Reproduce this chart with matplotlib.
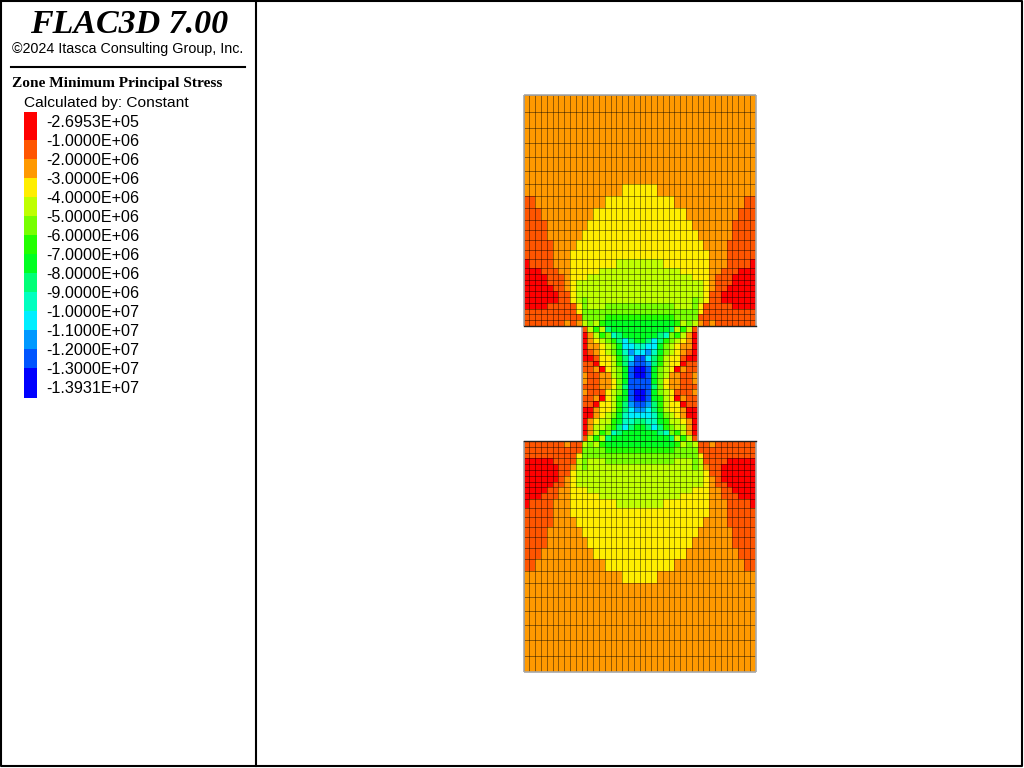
"""Zone minimum principal stress contour on a notched block (FLAC3D plot)."""

import numpy as np
import matplotlib
matplotlib.use("Agg")
import matplotlib.pyplot as plt
from matplotlib.colors import ListedColormap, BoundaryNorm

# legend
legend_labels = ["-2.6953E+05", "-1.0000E+06", "-2.0000E+06", "-3.0000E+06",
                 "-4.0000E+06", "-5.0000E+06", "-6.0000E+06", "-7.0000E+06",
                 "-8.0000E+06", "-9.0000E+06", "-1.0000E+07", "-1.1000E+07",
                 "-1.2000E+07", "-1.3000E+07", "-1.3931E+07"]
band_colors = ["#ff0000", "#ff5500", "#ff9900", "#ffee00", "#bfff00", "#77ff00",
               "#22ff00", "#00ff22", "#00ff77", "#00ffbf", "#00eeff", "#0099ff",
               "#0055ff", "#0000ff"]

# row heights, top to bottom
upper_heights = [16.5, 16, 15, 14, 14, 13.5, 12, 12, 11.5, 10.5, 10, 10, 9, 9,
                 5.8, 5.8, 5.8, 5.8, 5.8, 5.8, 5.8, 5.8, 5.8, 5.8]
neck_heights = [5.75] * 20
lower_heights = upper_heights[::-1]

# left half of each row as (band, number of zones), the right half mirrors it
upper_runs = [
    [(2, 20)], [(2, 20)], [(2, 20)], [(2, 20)], [(2, 20)], [(2, 20)],
    [(2, 17), (3, 3)],
    [(1, 2), (2, 12), (3, 6)],
    [(1, 3), (2, 9), (3, 8)],
    [(1, 4), (2, 7), (3, 9)],
    [(1, 4), (2, 6), (3, 10)],
    [(1, 5), (2, 4), (3, 11)],
    [(1, 5), (2, 3), (3, 12)],
    [(0, 1), (1, 4), (2, 3), (3, 8), (4, 4)],
    [(0, 3), (1, 3), (2, 2), (3, 5), (4, 7)],
    [(0, 4), (1, 3), (2, 1), (3, 3), (4, 9)],
    [(0, 4), (1, 3), (2, 1), (3, 1), (4, 11)],
    [(0, 5), (1, 2), (2, 1), (3, 1), (4, 11)],
    [(0, 6), (1, 2), (3, 1), (4, 11)],
    [(0, 6), (1, 2), (3, 1), (4, 1), (5, 1), (4, 9)],
    [(0, 4), (1, 5), (3, 1), (5, 1), (4, 3), (5, 6)],
    [(1, 9), (3, 1), (5, 10)],
    [(1, 10), (5, 4), (6, 6)],
    [(1, 7), (2, 1), (1, 1), (2, 1), (4, 1), (5, 1), (4, 1), (6, 1), (7, 6)],
]
lower_runs = [
    [(1, 7), (2, 1), (1, 2), (4, 1), (5, 1), (4, 1), (6, 1), (7, 6)],
    [(1, 10), (5, 4), (6, 6)],
    [(1, 9), (3, 1), (5, 10)],
    [(0, 5), (1, 4), (4, 1), (5, 1), (4, 3), (5, 6)],
    [(0, 6), (1, 2), (2, 1), (4, 1), (5, 1), (4, 9)],
    [(0, 6), (1, 2), (3, 1), (4, 11)],
    [(0, 6), (1, 1), (2, 1), (3, 1), (4, 11)],
    [(0, 5), (1, 2), (2, 1), (3, 1), (4, 11)],
    [(0, 4), (1, 2), (2, 2), (3, 3), (4, 9)],
    [(0, 3), (1, 3), (2, 2), (3, 5), (4, 7)],
    [(0, 1), (1, 4), (2, 3), (3, 8), (4, 4)],
    [(1, 5), (2, 3), (3, 12)],
    [(1, 5), (2, 4), (3, 11)],
    [(1, 4), (2, 6), (3, 10)],
    [(1, 4), (2, 7), (3, 9)],
    [(1, 3), (2, 9), (3, 8)],
    [(1, 2), (2, 12), (3, 6)],
    [(2, 17), (3, 3)],
    [(2, 20)], [(2, 20)], [(2, 20)], [(2, 20)], [(2, 20)], [(2, 20)],
]
# neck, columns 10 to 19
neck_rows = [
    [1, 4, 6, 4, 8, 7, 7, 7, 7, 7],
    [0, 2, 4, 6, 5, 9, 8, 7, 7, 7],
    [0, 2, 3, 4, 5, 6, 8, 10, 8, 7],
    [0, 2, 2, 3, 4, 5, 7, 10, 10, 9],
    [0, 1, 2, 3, 4, 5, 7, 9, 11, 10],
    [0, 0, 1, 3, 3, 4, 6, 8, 10, 12],
    [1, 1, 0, 3, 3, 4, 6, 8, 11, 12],
    [1, 1, 2, 0, 3, 4, 5, 7, 12, 13],
    [2, 1, 1, 2, 2, 4, 5, 7, 12, 13],
    [2, 1, 1, 2, 2, 3, 5, 7, 12, 12],
    [1, 1, 1, 2, 2, 3, 5, 8, 12, 12],
    [2, 1, 1, 1, 3, 4, 5, 7, 12, 13],
    [1, 1, 2, 0, 3, 4, 6, 7, 12, 13],
    [1, 1, 0, 3, 3, 4, 6, 8, 11, 12],
    [0, 0, 2, 3, 3, 4, 6, 8, 10, 11],
    [0, 0, 2, 3, 4, 5, 7, 9, 10, 10],
    [0, 2, 3, 4, 4, 6, 7, 9, 9, 8],
    [0, 2, 4, 4, 5, 6, 8, 10, 8, 7],
    [0, 2, 4, 6, 5, 9, 8, 7, 7, 7],
    [1, 4, 6, 4, 8, 7, 7, 7, 7, 7],
]


def expand(runs):
    """Passe des paires (bande, nombre) a une rangee complete de 40 zones."""
    moitie = [b for b, n in runs for _ in range(n)]
    return moitie + moitie[::-1]


def bords(y_haut, hauteurs):
    return y_haut + np.concatenate(([0.0], np.cumsum(hauteurs)))


W, H = 1024, 768
fig = plt.figure(figsize=(W / 100, H / 100), dpi=100, facecolor="white")

# panneau plein cadre en coordonnees pixels
panel = fig.add_axes([0, 0, 1, 1])
panel.set_xlim(0, W)
panel.set_ylim(H, 0)
panel.axis("off")

# maillage
top, left, right = 95.0, 523.5, 755.5
total = sum(upper_heights) + sum(neck_heights) + sum(lower_heights)
ax = fig.add_axes([left / W, 1 - (top + total) / H, (right - left) / W, total / H])
ax.set_xlim(0, 40)
ax.set_ylim(total, 0)
ax.axis("off")

cmap = ListedColormap(band_colors)
norm = BoundaryNorm(np.arange(len(band_colors) + 1) - 0.5, cmap.N)
maille = dict(cmap=cmap, norm=norm, edgecolors="none", antialiased=False)

y_up = bords(0.0, upper_heights)
y_neck = bords(y_up[-1], neck_heights)
y_low = bords(y_neck[-1], lower_heights)
x_full = np.arange(41)
x_neck = np.arange(10, 31)

z_up = np.array([expand(r) for r in upper_runs])
z_low = np.array([expand(r) for r in lower_runs])
z_neck = np.array([r + r[::-1] for r in neck_rows])

ax.pcolormesh(x_full, y_up, z_up, **maille)
ax.pcolormesh(x_neck, y_neck, z_neck, **maille)
ax.pcolormesh(x_full, y_low, z_low, **maille)

# lignes du maillage, bloc par bloc
trait = dict(colors="black", alpha=0.42, linewidth=0.72, snap=True)
for xs, ys in ((x_full, y_up), (x_neck, y_neck), (x_full, y_low)):
    ax.hlines(ys, xs[0], xs[-1], **trait)
    ax.vlines(xs, ys[0], ys[-1], **trait)

# contour gris, noir sous les epaulements
gris = dict(color="#a8a8a8", lw=1.2, clip_on=False, solid_capstyle="butt")
for xs in (0, 40):
    ax.plot([xs, xs], [y_up[0], y_up[-1]], **gris)
    ax.plot([xs, xs], [y_low[0], y_low[-1]], **gris)
for xs in (10, 30):
    ax.plot([xs, xs], [y_neck[0], y_neck[-1]], **gris)
for ys in (y_up[0], y_low[-1]):
    ax.plot([0, 40], [ys, ys], **gris)
for ys in (y_up[-1], y_low[0]):
    ax.plot([0, 10], [ys, ys], color="#202020", lw=1.0, clip_on=False)
    ax.plot([30, 40], [ys, ys], color="#202020", lw=1.0, clip_on=False)

# cadre
panel.plot([1, 1022, 1022, 1, 1], [1, 1, 766, 766, 1], color="black", lw=1.5, clip_on=False)
panel.plot([255.5, 255.5], [1, 766], color="black", lw=1.5)

# titres
panel.text(129, 24.5, "FLAC3D 7.00", family="Liberation Serif", style="italic",
           weight="bold", fontsize=24.5, ha="center", va="center")
panel.text(128, 49, "©2024 Itasca Consulting Group, Inc.", family="Liberation Sans",
           fontsize=10.3, ha="center", va="center")
panel.plot([11, 245], [67, 67], color="black", lw=1.5)
panel.text(12, 84, "Zone Minimum Principal Stress", family="Liberation Serif",
           weight="bold", fontsize=11.05, ha="left", va="center")
panel.text(24, 103.5, "Calculated by: Constant", family="Liberation Sans",
           fontsize=11.15, ha="left", va="center")

# legende
bord_y = np.array([112.0] + [140.0 + 19.0 * i for i in range(13)] + [398.0])
for i, couleur in enumerate(band_colors):
    panel.bar(30.5, bord_y[i + 1] - bord_y[i], width=13, bottom=bord_y[i],
              color=couleur, linewidth=0)
for i, lab in enumerate(legend_labels):
    panel.text(46.5, 122.5 + 19 * i, lab, family="Liberation Sans", fontsize=11.6,
               ha="left", va="center")

fig.savefig("out.png", dpi=100, facecolor="white")
